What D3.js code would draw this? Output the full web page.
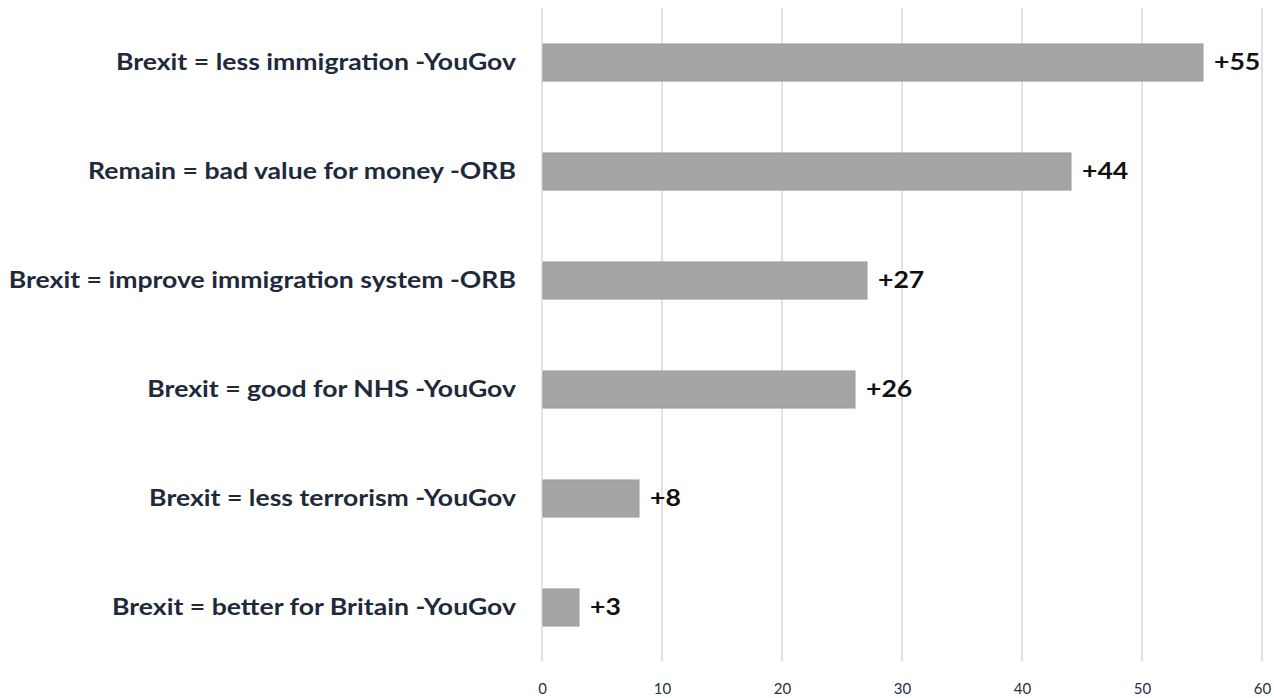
<!DOCTYPE html>
<html>
<head>
<meta charset="utf-8">
<script src="https://cdn.jsdelivr.net/npm/d3@7"></script>
<style>
  body { margin: 0; background: #fff; }
  svg text { font-family: Lato, "Open Sans", sans-serif; }
</style>
</head>
<body>
<div id="chart"></div>
<script>
// chart data
var categories = [
	"Brexit = less immigration -YouGov",
	"Remain = bad value for money -ORB",
	"Brexit = improve immigration system -ORB",
	"Brexit = good for NHS -YouGov",
	"Brexit = less terrorism -YouGov",
	"Brexit = better for Britain -YouGov"
];
var values = [55, 44, 27, 26, 8, 3];
var tickValues = [0, 10, 20, 30, 40, 50, 60];

var W = 1274, H = 698;
var margin = { top: 8, right: 12, bottom: 36, left: 542 },
	width = W - margin.left - margin.right,
	height = H - margin.top - margin.bottom;

// the reference text is a bit wide, stretch it horizontally
var stretch = 1.21;

var svg = d3.select("#chart")
	.append("svg")
	.attr("width", W)
	.attr("height", H)
	.append("g")
	.attr("transform", "translate(" + margin.left + "," + margin.top + ")");

var x = d3.scaleLinear()
	.domain([0, 60])
	.range([0, 720]);

var y = d3.scaleBand()
	.domain(categories)
	.range([0, height])
	.paddingInner(0.66)
	.paddingOuter(0.33);

// vertical gridlines
svg.selectAll(".grid")
	.data(tickValues)
	.enter()
	.append("line")
	.attr("x1", function (d) { return x(d); })
	.attr("x2", function (d) { return x(d); })
	.attr("y1", 0)
	.attr("y2", height)
	.attr("stroke", "#d0d0d0")
	.attr("stroke-width", 1.2);

// x axis tick labels
var xAxis = svg.append("g")
	.attr("transform", "translate(0," + height + ")")
	.call(d3.axisBottom(x).tickValues(tickValues).tickSize(0).tickPadding(21));
xAxis.select(".domain").remove();
xAxis.selectAll("text")
	.style("font-size", "15px")
	.style("font-family", "Lato, sans-serif")
	.attr("fill", "#2a3040");

// bars
svg.selectAll(".bar")
	.data(values)
	.enter()
	.append("rect")
	.attr("x", x(0) + 1)
	.attr("y", function (d, i) { return y(categories[i]); })
	.attr("width", function (d) { return x(d) - x(0); })
	.attr("height", y.bandwidth())
	.attr("fill", "#a5a5a5")
	.attr("stroke", "#9a9a9a")
	.attr("stroke-width", 1);

// value labels
svg.selectAll(".val")
	.data(values)
	.enter()
	.append("text")
	.attr("transform", function (d, i) {
		return "translate(" + (x(d) + 12) + "," + (y(categories[i]) + y.bandwidth() / 2) + ") scale(" + stretch + ",1)";
	})
	.attr("dy", "0.36em")
	.style("font-size", "22px")
	.style("font-weight", "bold")
	.attr("fill", "#111")
	.text(function (d) { return "+" + d; });

// category labels
svg.selectAll(".cat")
	.data(categories)
	.enter()
	.append("text")
	.attr("transform", function (d) {
		return "translate(-26," + (y(d) + y.bandwidth() / 2) + ") scale(" + stretch + ",1)";
	})
	.attr("dy", "0.36em")
	.attr("text-anchor", "end")
	.style("font-size", "22px")
	.style("font-weight", "bold")
	.attr("fill", "#1e2a3a")
	.text(function (d) { return d; });
</script>
</body>
</html>
